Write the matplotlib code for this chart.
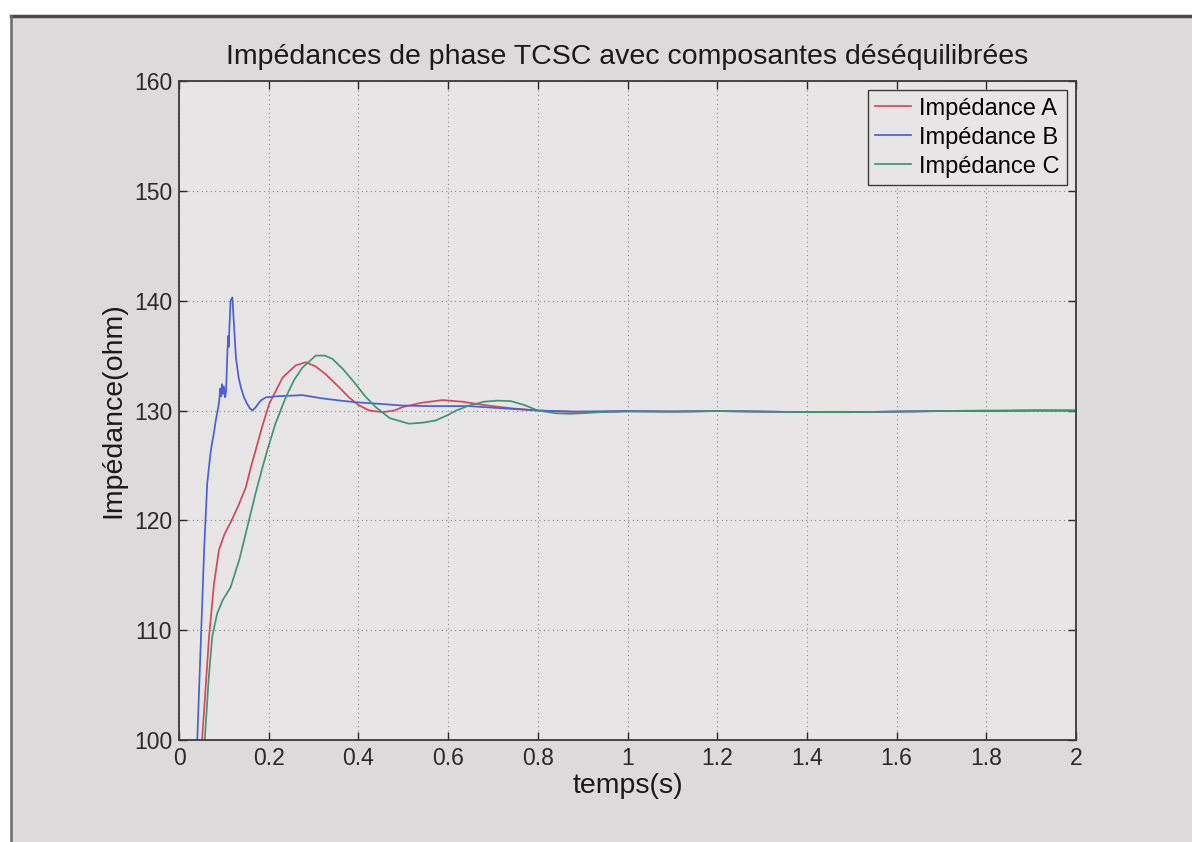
import matplotlib
matplotlib.use("Agg")
import matplotlib.pyplot as plt
from matplotlib.patches import Rectangle
from matplotlib.lines import Line2D

plt.rcParams['font.family'] = ['Liberation Sans', 'DejaVu Sans']

title = "Impédances de phase TCSC avec composantes déséquilibrées"
xlabel = "temps(s)"
ylabel = "Impédance(ohm)"
labels = ["Impédance A", "Impédance B", "Impédance C"]
xticks = [0, 0.2, 0.4, 0.6, 0.8, 1, 1.2, 1.4, 1.6, 1.8, 2]
xticklabels = ["0", "0.2", "0.4", "0.6", "0.8", "1", "1.2", "1.4", "1.6", "1.8", "2"]
yticks = [100, 110, 120, 130, 140, 150, 160]

tail_t = [1.0, 1.1, 1.2, 1.3, 1.4, 1.5, 1.6, 1.7, 1.8, 1.9, 2.0]

# Impédance A (red)
t_a = [0.045, 0.052, 0.067, 0.078, 0.089, 0.102, 0.115, 0.132, 0.149, 0.160, 0.171,
       0.186, 0.201, 0.231, 0.26, 0.283, 0.305, 0.327, 0.355, 0.379, 0.40, 0.424,
       0.454, 0.48, 0.498, 0.54, 0.588, 0.632, 0.68, 0.74, 0.80, 0.86, 0.92] + tail_t
z_a = [92, 100.3, 109.4, 114.2, 117.3, 118.8, 119.8, 121.3, 123.0, 124.8, 126.4,
       128.6, 130.6, 133.0, 134.1, 134.4, 134.0, 133.3, 132.2, 131.2, 130.5, 130.0,
       129.85, 130.0, 130.3, 130.7, 130.95, 130.8, 130.5, 130.2, 130.0, 129.9, 129.85,
       129.95, 129.9, 129.95, 129.9, 129.85, 129.85, 129.9, 129.95, 129.95, 130.0, 130.0]

# Impédance B (blue)
t_b = [0.035, 0.041, 0.048, 0.052, 0.056, 0.063, 0.071, 0.078, 0.082, 0.088, 0.090,
       0.092, 0.094, 0.096, 0.098, 0.100, 0.103, 0.105, 0.108, 0.110, 0.111, 0.112,
       0.115, 0.119, 0.123, 0.127, 0.133, 0.138, 0.145, 0.152, 0.158, 0.164, 0.171,
       0.182, 0.194, 0.22, 0.25, 0.275, 0.32, 0.36, 0.394, 0.45, 0.498, 0.56, 0.647,
       0.72, 0.80, 0.88] + tail_t
z_b = [92, 100.3, 108.2, 112.7, 117.3, 123.4, 126.4, 128.0, 129.1, 130.4, 131.0,
       132.0, 131.3, 132.4, 131.5, 132.2, 131.2, 131.8, 135.5, 136.8, 135.8, 137.2,
       140.0, 140.3, 137.5, 134.8, 133.0, 132.1, 131.2, 130.6, 130.2, 130.0, 130.3,
       130.9, 131.2, 131.3, 131.35, 131.4, 131.1, 130.9, 130.75, 130.6, 130.45, 130.4,
       130.4, 130.2, 130.0, 129.9,
       129.95, 129.9, 129.95, 129.9, 129.85, 129.85, 129.9, 129.95, 129.95, 130.0, 130.0]

# Impédance C (green)
t_c = [0.05, 0.058, 0.066, 0.074, 0.085, 0.097, 0.115, 0.135, 0.156, 0.171, 0.186,
       0.197, 0.215, 0.238, 0.257, 0.275, 0.305, 0.325, 0.342, 0.365, 0.394, 0.415,
       0.439, 0.47, 0.513, 0.545, 0.573, 0.60, 0.618, 0.647, 0.68, 0.71, 0.74, 0.77,
       0.80, 0.84, 0.87, 0.90, 0.94] + tail_t
z_c = [92, 100.3, 105.5, 109.4, 111.5, 112.7, 113.9, 116.5, 120.0, 122.5, 124.8,
       126.4, 128.8, 131.2, 132.8, 133.9, 135.0, 135.0, 134.7, 133.8, 132.4, 131.3,
       130.3, 129.3, 128.8, 128.9, 129.1, 129.6, 130.0, 130.45, 130.8, 130.9, 130.85,
       130.5, 130.0, 129.75, 129.7, 129.75, 129.85,
       129.9, 129.9, 129.95, 129.9, 129.85, 129.85, 129.9, 129.95, 130.0, 130.0, 130.0]

colors = ["#d4475e", "#4b5fd6", "#3f9673"]

W, H = 1192, 842
fig = plt.figure(figsize=(W / 100, H / 100), dpi=100)
fig.patch.set_facecolor("white")

# scanned gray panel with dark top/left border
fig.patches.append(Rectangle((11 / W, 0), 1 - 11 / W, 1 - 16 / H, transform=fig.transFigure,
                             facecolor="#dddadb", edgecolor="none", zorder=-10))
fig.add_artist(Line2D([11 / W, 1], [1 - 16 / H, 1 - 16 / H], transform=fig.transFigure,
                      color="#4a4a4a", lw=2.5, zorder=-9))
fig.add_artist(Line2D([11 / W, 11 / W], [0, 1 - 16 / H], transform=fig.transFigure,
                      color="#6a6a6a", lw=1.8, zorder=-9))

ax = fig.add_axes([179 / W, (H - 740) / H, (1076 - 179) / W, (740 - 81) / H])
ax.set_facecolor("#e7e5e6")

for t, z, c, lab in zip([t_a, t_b, t_c], [z_a, z_b, z_c], colors, labels):
    ax.plot(t, z, color=c, lw=1.25, label=lab)

ax.set_xlim(0, 2)
ax.set_ylim(100, 160)
ax.set_xticks(xticks)
ax.set_xticklabels(xticklabels)
ax.set_yticks(yticks)
ax.grid(True, linestyle=(0, (1, 3)), color="#8a8a8a", lw=0.8)
ax.tick_params(direction="in", length=6, width=1.0, top=True, right=True,
               labelsize=16.5, colors="#2a2a2a", pad=5)
for s in ax.spines.values():
    s.set_color("#3a3a3a")
    s.set_linewidth(1.3)

ax.set_title(title, fontsize=20.5, color="#1a1a1a", pad=12)
ax.set_xlabel(xlabel, fontsize=20.5, color="#1a1a1a", labelpad=2)
ax.set_ylabel(ylabel, fontsize=20.5, color="#1a1a1a", labelpad=5)

leg = ax.legend(loc="upper right", fontsize=17, frameon=True, fancybox=False,
                handlelength=1.5, handletextpad=0.35, borderpad=0.3, labelspacing=0.3,
                borderaxespad=0.4)
leg.get_frame().set_edgecolor("#3a3a3a")
leg.get_frame().set_facecolor("#e7e5e6")
leg.get_frame().set_linewidth(1.0)
leg.get_frame().set_alpha(1)

fig.savefig("out.png", dpi=100)
